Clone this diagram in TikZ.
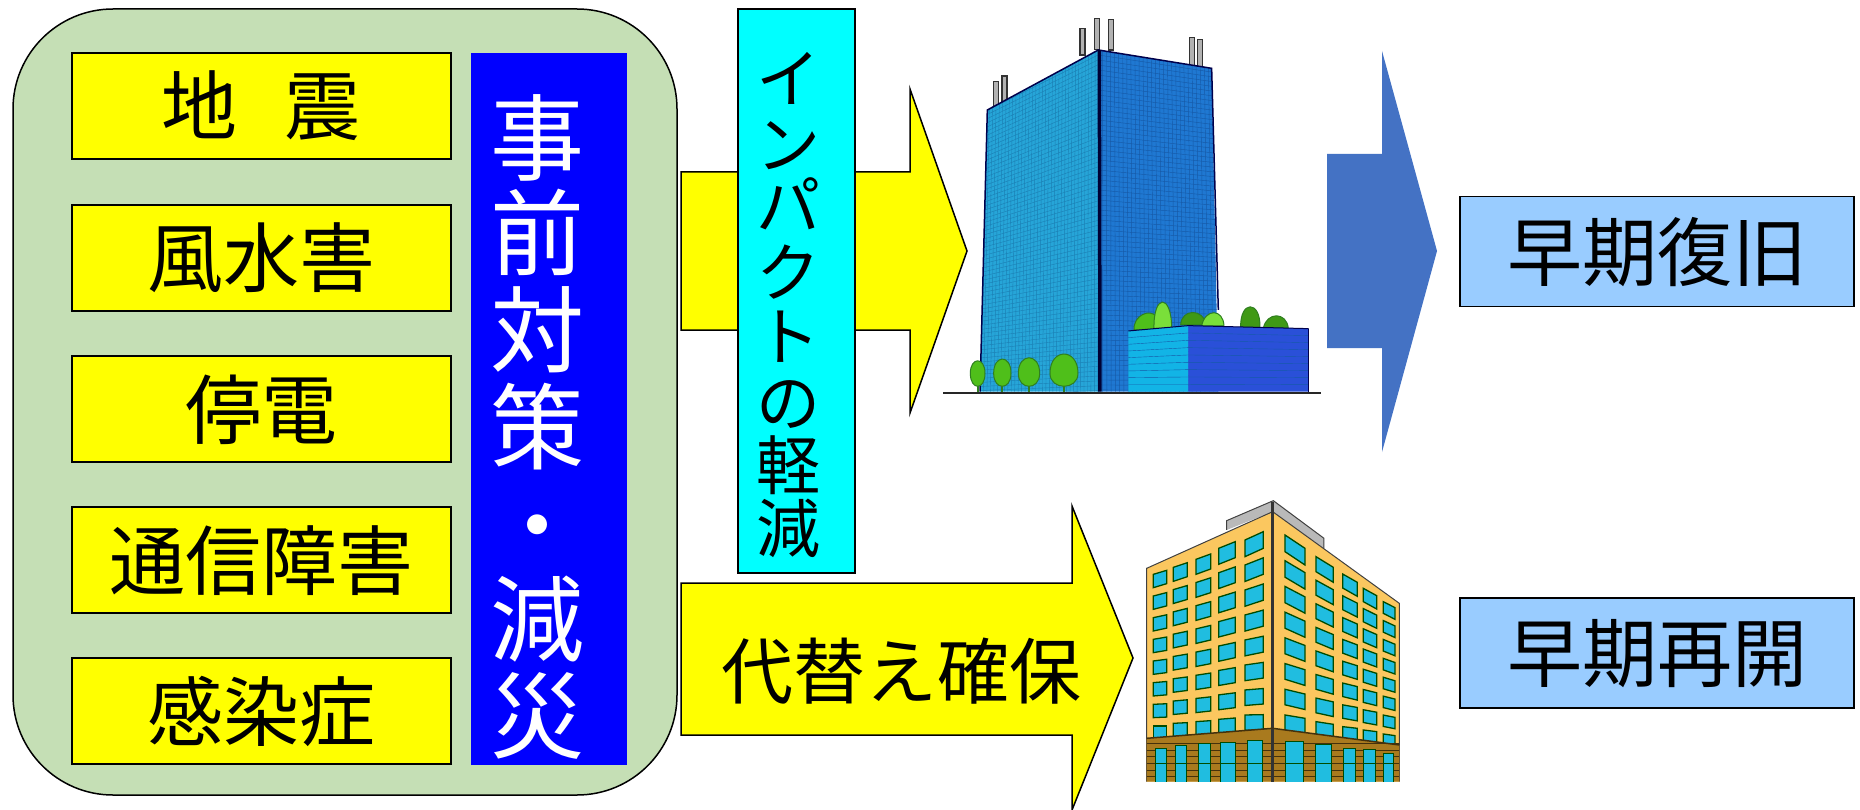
\documentclass[tikz,border=0pt]{standalone}
\usepackage{fontspec}
\setmainfont{Noto Sans CJK JP}
\definecolor{panelgreen}{HTML}{C5DFB5}
\definecolor{sky}{HTML}{99CCFF}
\definecolor{arrowblue}{HTML}{4472C4}
\definecolor{pureyellow}{HTML}{FFFF00}
\definecolor{purecyan}{HTML}{00FFFF}
\definecolor{pureblue}{HTML}{0000FF}
\definecolor{faceL}{HTML}{26A5D8}
\definecolor{faceR}{HTML}{1F78D2}
\definecolor{gridL}{HTML}{1B7FB4}
\definecolor{gridR}{HTML}{165AA8}
\definecolor{lowL}{HTML}{12B4E6}
\definecolor{lowR}{HTML}{2A50D8}
\definecolor{leaf}{HTML}{4FBF1A}
\definecolor{leafL}{HTML}{7ADF3A}
\definecolor{leafD}{HTML}{2F7F20}
\definecolor{wall}{HTML}{FBC75F}
\definecolor{brown}{HTML}{A97A1E}
\definecolor{glass}{HTML}{20BDE0}
\tikzset{
  outl/.style={draw=black,line width=1.5pt},
  hazard/.style={outl,fill=pureyellow,minimum width=379pt,minimum height=106pt,inner sep=0pt,text height=67pt,text depth=9pt,font=\fontsize{76}{76}\selectfont},
  result/.style={outl,fill=sky,minimum width=394pt,minimum height=110pt,inner sep=0pt,text height=66pt,text depth=9pt,font=\fontsize{75}{75}\selectfont},
  whitechar/.style={inner sep=0pt,anchor=base,text=white,font=\fontsize{94}{94}\selectfont},
  blackchar/.style={inner sep=0pt,anchor=base,font=\fontsize{64}{64}\selectfont},
  win/.style={fill=glass,draw=black!70!green,line width=1.3pt},
  tree/.style={fill=leaf,draw=leafD,line width=1pt},
}
\begin{document}
\begin{tikzpicture}[x=1pt,y=-1pt]
\useasboundingbox (0,0) rectangle (1860,810);
\fill[white] (0,0) rectangle (1860,810);
% panel
\draw[outl,fill=panelgreen,rounded corners=100pt] (13,9) rectangle (677,795);
\node[hazard] (h1) at (261.5,106) {地\hspace{0.62em}震};
\node[hazard] (h2) at (261.5,258) {風水害};
\node[hazard] (h3) at (261.5,409) {停電};
\node[hazard] (h4) at (261.5,560) {通信障害};
\node[hazard] (h5) at (261.5,711) {感染症};
\fill[pureblue] (471,53) rectangle (627,765);
\foreach \n/\c/\y in {a/事/139,b/前/234,c/対/330,d/策/427,e/・/525,f/減/619,g/災/716}
  \node[whitechar] (m\n) at (537,\y+35) {\c};
% arrows
\draw[outl,fill=pureyellow] (681,172) -- (910,172) -- (910,89) -- (967,251) -- (910,413) -- (910,330) -- (681,330) -- cycle;
\draw[outl,fill=pureyellow] (681,583) -- (1072,583) -- (1072,506) -- (1133,658) -- (1072,810) -- (1072,735) -- (681,735) -- cycle;
\node[inner sep=0pt,anchor=base,font=\fontsize{72}{72}\selectfont] (alt) at (901,698) {代替え確保};
\fill[arrowblue] (1327,154) -- (1382,154) -- (1382,51) -- (1437,251) -- (1382,452) -- (1382,348) -- (1327,348) -- cycle;
% cyan box
\draw[outl,fill=purecyan] (738,9) rectangle (855,573);
\foreach \n/\c/\y in {a/イ/79,b/ン/145,c/パ/206,d/ク/272,e/ト/336,f/の/402,g/軽/465,h/減/528}
  \node[blackchar] (k\n) at (788,\y+24) {\c};
% results
\node[result] (r1) at (1657,251.5) {早期復旧};
\node[result] (r2) at (1657,653) {早期再開};
% tower
\begin{scope}[shift={(930,0)},x=0.3333pt,y=-0.3333pt]
  \foreach \x/\t/\b in {190/245/320,216/228/305,450/85/165,494/55/148,535/58/150,778/112/198,803/118/202}{
    \draw[fill=gray!60,draw=black!80,line width=1.6pt] (\x,\t) rectangle (\x+15,\b);
  }
  \begin{scope}
    \clip (172,330) -- (505,150) -- (505,1175) -- (150,1175) -- cycle;
    \fill[faceL] (140,140) rectangle (510,1180);
    \foreach \i in {0,1,...,34}{
      \pgfmathsetmacro{\xb}{150+\i*10.4}
      \pgfmathsetmacro{\xt}{172+\i*9.8}
      \draw[gridL,line width=.4pt] (\xb,1175) -- (\xt,150);
    }
    \foreach \i in {0,1,...,70}{
      \pgfmathsetmacro{\yl}{330+\i*12.2}
      \pgfmathsetmacro{\yr}{150+\i*14.6}
      \draw[gridL,line width=.4pt] (150,\yl) -- (505,\yr);
    }
  \end{scope}
  \begin{scope}
    \clip (505,150) -- (845,205) -- (865,1175) -- (505,1175) -- cycle;
    \fill[faceR] (500,140) rectangle (870,1180);
    \foreach \i in {0,1,...,28}{
      \pgfmathsetmacro{\xb}{505+\i*12.8}
      \pgfmathsetmacro{\xt}{505+\i*12.2}
      \draw[gridR,line width=.45pt] (\xb,1175) -- (\xt,150);
    }
    \foreach \i in {0,1,...,68}{
      \pgfmathsetmacro{\yl}{150+\i*15}
      \pgfmathsetmacro{\yr}{205+\i*14.2}
      \draw[gridR,line width=.45pt] (505,\yl) -- (865,\yr);
    }
  \end{scope}
  \draw[black!70!blue,line width=1.5pt] (150,1175) -- (172,330) -- (505,150) -- (845,205) -- (865,930);
  \draw[black!80!blue,line width=3.5pt] (508,150) -- (510,1175);
  % rear trees
  \draw[tree] (612,990) .. controls (610,945) and (660,925) .. (680,950) -- (680,990) -- cycle;
  \draw[tree,fill=leafL] (672,985) .. controls (670,880) and (725,880) .. (725,985) -- cycle;
  \draw[tree,fill=leaf!80!black] (752,975) .. controls (755,925) and (820,925) .. (830,975) -- cycle;
  \draw[tree,fill=leafL] (815,978) .. controls (825,925) and (880,925) .. (882,978) -- cycle;
  \draw[tree,fill=leaf!80!black] (932,982) .. controls (930,900) and (992,900) .. (990,982) -- cycle;
  \draw[tree,fill=leaf!80!black] (1000,985) .. controls (1010,935) and (1070,935) .. (1075,985) -- cycle;
  % low block
  \fill[lowL] (595,993) -- (775,977) -- (775,1175) -- (595,1175) -- cycle;
  \fill[lowR] (775,977) -- (1136,986) -- (1136,1175) -- (775,1175) -- cycle;
  \foreach \i in {1,...,8}{
    \pgfmathsetmacro{\ya}{993+\i*20}
    \pgfmathsetmacro{\yb}{977+\i*22}
    \pgfmathsetmacro{\yc}{986+\i*21}
    \draw[gridR,line width=.4pt] (595,\ya) -- (775,\yb) -- (1136,\yc);
  }
  \draw[black!70!blue,line width=1pt] (1136,986) -- (1136,1175);
  \draw[black!70!blue,line width=1pt] (595,993) -- (775,977) -- (1136,986);
  % front trees
  \foreach \x/\w/\t in {143/22/1082,217/26/1075,297/32/1070,402/42/1055}{
    \draw[leafD,line width=2pt] (\x,1130) -- (\x,1175);
    \draw[tree] (\x-\w,1120) .. controls (\x-\w,\t-12) and (\x+\w,\t-12) .. (\x+\w,1120) .. controls (\x+\w,1172) and (\x-\w,1172) .. (\x-\w,1120) -- cycle;
  }
  \draw[black!85,line width=2pt] (40,1180) -- (1172,1180);
\end{scope}
% office block
\begin{scope}[shift={(1120,480)},x=0.3333pt,y=-0.3333pt]
  \fill[gray!55] (320,150) -- (320,122) -- (460,62) -- (612,175) -- (612,205) -- (458,95) -- cycle;
  \draw[black!75,line width=1pt] (320,150) -- (320,122) -- (460,62) -- (612,175) -- (612,205);
  \fill[wall] (80,265) -- (458,95) -- (838,370) -- (838,905) -- (80,905) -- cycle;
  \draw[black!75,line width=1pt] (80,905) -- (80,265) -- (458,95) -- (838,370) -- (838,905);
  \foreach \xa/\xb/\ta/\tb/\da/\db/\ha/\hb in {
    100/140/283/738/-12/0/40/40, 160/202/262/730/-14/-2/42/40, 228/272/238/725/-16/-3/45/42,
    296/346/205/718/-20/-4/48/44, 375/430/180/705/-25/-1/50/46,
    495/555/165/705/40/10/50/46, 588/640/230/725/32/8/45/44, 668/712/282/740/25/5/42/40,
    730/770/325/750/22/5/40/38, 790/825/365/762/18/5/35/34}{
    \foreach \r in {0,...,7}{
      \pgfmathsetmacro{\yt}{\ta+\r/7*(\tb-\ta)}
      \pgfmathsetmacro{\yd}{\da+\r/7*(\db-\da)}
      \pgfmathsetmacro{\yh}{\ha+\r/7*(\hb-\ha)}
      \draw[win] (\xa,\yt) -- (\xb,\yt+\yd) -- (\xb,\yt+\yd+\yh) -- (\xa,\yt+\yh) -- cycle;
    }
  }
  \fill[brown] (80,775) -- (458,745) -- (838,795) -- (838,905) -- (80,905) -- cycle;
  \foreach \y in {790,810,830,850,870,890}
    \draw[black!60!brown,line width=.5pt] (80,\y) -- (838,\y);
  \foreach \xa/\xb/\yt in {105/138/805,165/200/798,235/270/792,302/345/788,383/428/782,497/552/785,588/636/795,672/706/805,732/768/810,792/820/820}{
    \fill[glass] (\xa,\yt) rectangle (\xb,905);
    \draw[black!70!green,line width=1pt] (\xa,905) -- (\xa,\yt) -- (\xb,\yt) -- (\xb,905);
    \draw[black!70!green,line width=.5pt] (\xa,850) -- (\xb,850);
  }
  \draw[black!80,line width=2.5pt] (458,65) -- (458,905);
  \draw[black!60!brown,line width=1.5pt] (80,775) -- (458,745) -- (838,795);
\end{scope}
\end{tikzpicture}
\end{document}
